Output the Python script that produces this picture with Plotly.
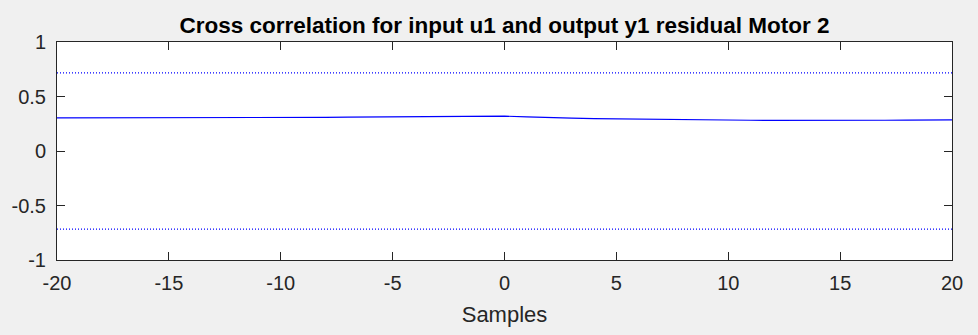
import plotly.graph_objects as go

# Lags and cross-correlation estimate between input u1 and output residual y1
lags = list(range(-20, 21))
xcorr = [0.303, 0.303, 0.304, 0.304, 0.305, 0.305, 0.305, 0.306, 0.306, 0.307,
         0.308, 0.308, 0.309, 0.310, 0.311, 0.312, 0.313, 0.315, 0.317, 0.319,
         0.320, 0.313, 0.305, 0.301, 0.297, 0.294, 0.291, 0.288, 0.286, 0.284,
         0.283, 0.282, 0.281, 0.280, 0.280, 0.280, 0.281, 0.282, 0.284, 0.285,
         0.286]

# 99% confidence bound
conf_bound = 0.716

x_ticks = [-20, -15, -10, -5, 0, 5, 10, 15, 20]
x_tick_text = ["-20", "-15", "-10", "-5", "0", "5", "10", "15", "20"]
y_ticks = [-1, -0.5, 0, 0.5, 1]
y_tick_text = ["-1", "-0.5", "0", "0.5", "1"]

font_family = "Arial, Liberation Sans, Helvetica, sans-serif"
axis_color = "#262626"

fig = go.Figure()
fig.add_trace(go.Scatter(x=lags, y=xcorr, mode="lines",
                         line=dict(color="#0000ff", width=1.2), showlegend=False))
for bound in (conf_bound, -conf_bound):
    fig.add_trace(go.Scatter(x=[lags[0], lags[-1]], y=[bound, bound], mode="lines",
                             line=dict(color="#0000ff", width=1.2, dash="1px,2px"),
                             showlegend=False))

axis_common = dict(showgrid=False, zeroline=False, showline=True, linecolor=axis_color,
                   linewidth=1, mirror="ticks", ticks="inside", ticklen=8,
                   tickcolor=axis_color, tickwidth=1,
                   tickfont=dict(family=font_family, size=20, color=axis_color))

fig.update_layout(
    width=978, height=335,
    margin=dict(l=47.5, r=25.5, t=41.5, b=74.5),
    paper_bgcolor="#f0f0f0", plot_bgcolor="#ffffff",
    title=dict(text="<b>Cross correlation for input u1 and output y1 residual Motor 2</b>",
               x=0.5, xref="paper", xanchor="center", y=0.925, yanchor="middle",
               font=dict(family=font_family, size=22.5, color="#000000")),
    xaxis=dict(range=[-20, 20], tickvals=x_ticks, ticktext=x_tick_text,
               ticklabelstandoff=5,
               title=dict(text="Samples", standoff=13,
                          font=dict(family=font_family, size=22, color=axis_color)),
               **axis_common),
    yaxis=dict(range=[-1, 1], tickvals=y_ticks, ticktext=y_tick_text,
               ticklabelstandoff=6, **axis_common),
)

fig.write_html("out.html")
